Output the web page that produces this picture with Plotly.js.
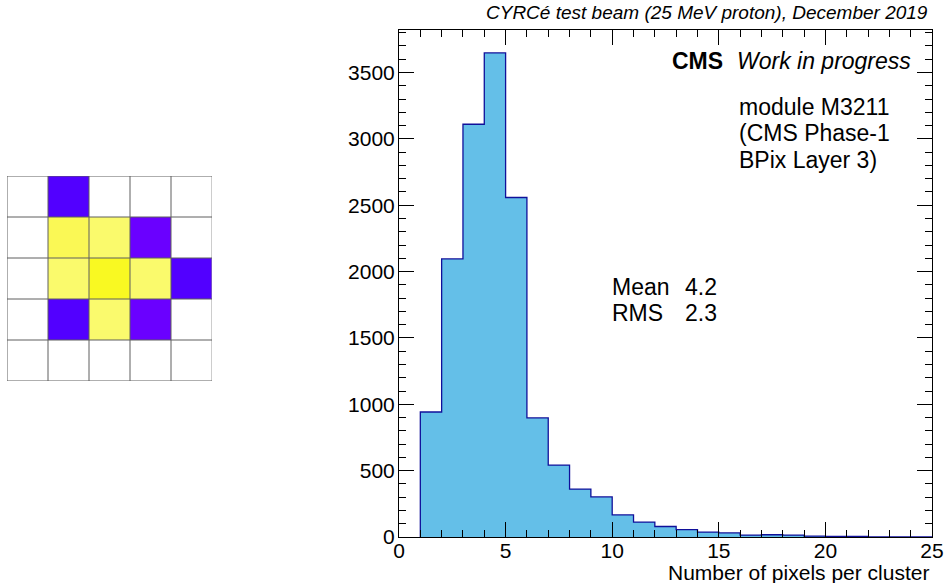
<!DOCTYPE html>
<html>
<head>
<meta charset="utf-8">
<script src="https://cdn.plot.ly/plotly-3.0.1.min.js"></script>
<style>html,body{margin:0;padding:0;background:#fff;}#chart{width:945px;height:583px;}</style>
</head>
<body>
<div id="chart"></div>
<script>
// ---- Histogram data: Number of pixels per cluster ----
const binEdges = [0,1,2,3,4,5,6,7,8,9,10,11,12,13,14,15,16,17,18,19,20,21,22,23,24,25];
const binCounts = [0,942,2096,3110,3647,2558,897,541,360,303,166,112,79,55,36,31,14,17,14,6,5,4,1,0,0];

// ---- Example cluster (5x5 pixel map), rows top to bottom ----
const pixelRows = [0,1,2,3,4];
const pixelCols = [0,1,2,3,4];
const pixelCharge = [
  [null, 1,    null, null, null],
  [null, 7,    5,    2,    null],
  [null, 5,    10,   5,    1   ],
  [null, 1,    4.5,  2,    null],
  [null, null, null, null, null]
];

// ---- Texts ----
const xTitle = 'Number of pixels per cluster';
const topText = 'CYRCé test beam (25 MeV proton), December 2019';
const cmsLabel = 'CMS';
const wipLabel = 'Work in progress';
const moduleText = ['module M3211', '(CMS Phase-1', 'BPix Layer 3)'];
const statNames = ['Mean', 'RMS'];
const statValues = ['4.2', '2.3'];

// ---- geometry helpers (pixels -> paper) ----
const W = 945, H = 583;
const px = x => x / W;
const py = y => (H - y) / H;

const centers = binCounts.map((_, i) => (binEdges[i] + binEdges[i + 1]) / 2);
const widths = binCounts.map((_, i) => binEdges[i + 1] - binEdges[i]);

// step contour
const stepX = [binEdges[1]], stepY = [0];
for (let i = 1; i < binCounts.length; i++) { stepX.push(binEdges[i]); stepY.push(binCounts[i]); }
stepX.push(binEdges[binEdges.length - 1]); stepY.push(0);

const font = 'Liberation Sans, Arial, Helvetica, sans-serif';

const traces = [
  {
    type: 'bar', x: centers, y: binCounts, width: widths,
    marker: { color: '#64BFE8', line: { width: 0 } },
    xaxis: 'x', yaxis: 'y', hoverinfo: 'skip'
  },
  {
    type: 'scatter', mode: 'lines', x: stepX, y: stepY,
    line: { shape: 'hv', color: '#10109A', width: 1.3 },
    xaxis: 'x', yaxis: 'y', hoverinfo: 'skip'
  },
  {
    type: 'heatmap', x: pixelCols, y: pixelRows, z: pixelCharge,
    zmin: 1, zmax: 10, showscale: false,
    colorscale: [
      [0, '#5200FF'], [0.13, '#6E00FF'], [0.131, '#FAFA74'],
      [0.5, '#FAFA6A'], [0.667, '#FAF855'], [1, '#F9F922']
    ],
    xaxis: 'x2', yaxis: 'y2', hoverinfo: 'skip'
  }
];

const shapes = [];
for (let i = 0; i <= pixelCols.length; i++) {
  shapes.push({ type: 'line', xref: 'x2', yref: 'y2', layer: 'above',
    x0: i - 0.5, x1: i - 0.5, y0: -0.5, y1: pixelRows.length - 0.5,
    line: { color: i === pixelCols.length ? '#9a9a9a' : '#5e5e5e', width: 1 } });
}
for (let j = 0; j <= pixelRows.length; j++) {
  shapes.push({ type: 'line', xref: 'x2', yref: 'y2', layer: 'above',
    x0: -0.5, x1: pixelCols.length - 0.5, y0: j - 0.5, y1: j - 0.5,
    line: { color: '#5e5e5e', width: 1 } });
}

function note(text, xPix, yPix, anchor, size, extra) {
  return Object.assign({ text: text, xref: 'paper', yref: 'paper', x: px(xPix), y: py(yPix),
    xanchor: anchor, yanchor: 'middle', showarrow: false, align: anchor,
    font: { family: font, size: size, color: '#000' } }, extra || {});
}

const annotations = [
  note('<i>' + topText + '</i>', 930, 12, 'right', 19),
  note('<i>' + wipLabel + '</i>', 913, 61, 'right', 23),
  note('<b>' + cmsLabel + '</b>', 725, 61, 'right', 23),
  note(xTitle, 931, 572, 'right', 21)
];
const moduleY = [107, 133, 160];
moduleText.forEach((t, i) => annotations.push(note(t, 737, moduleY[i], 'left', 23)));
const statY = [287, 313];
statNames.forEach((t, i) => annotations.push(note(t, 610, statY[i], 'left', 23)));
statValues.forEach((t, i) => annotations.push(note(t, 683, statY[i], 'left', 23)));

const layout = {
  width: W, height: H,
  margin: { l: 0, r: 0, t: 0, b: 0 },
  paper_bgcolor: '#fff', plot_bgcolor: 'rgba(0,0,0,0)',
  showlegend: false, barmode: 'overlay', bargap: 0,
  font: { family: font, size: 21, color: '#000' },
  xaxis: {
    domain: [px(399), px(932)], range: [0, 25], anchor: 'y',
    tickvals: [0, 5, 10, 15, 20, 25], ticks: 'inside', ticklen: 15, tickcolor: '#000', tickwidth: 1,
    minor: { dtick: 1, ticks: 'inside', ticklen: 7, tickcolor: '#000', tickwidth: 1 },
    showline: true, linecolor: '#000', linewidth: 1, mirror: 'ticks',
    showgrid: false, zeroline: false, tickfont: { family: font, size: 21 }, ticklabelstandoff: -5
  },
  yaxis: {
    domain: [py(537), py(30)], range: [0, 3820], anchor: 'x',
    tickvals: [0, 500, 1000, 1500, 2000, 2500, 3000, 3500], ticks: 'inside', ticklen: 15, tickcolor: '#000', tickwidth: 1,
    minor: { dtick: 100, ticks: 'inside', ticklen: 7, tickcolor: '#000', tickwidth: 1 },
    showline: true, linecolor: '#000', linewidth: 1, mirror: 'ticks',
    showgrid: false, zeroline: false, tickfont: { family: font, size: 21 }, ticklabelstandoff: -1
  },
  xaxis2: {
    domain: [px(7), px(212)], range: [-0.5, pixelCols.length - 0.5], anchor: 'y2',
    visible: false, showgrid: false, zeroline: false
  },
  yaxis2: {
    domain: [py(381), py(176)], range: [pixelRows.length - 0.5, -0.5], anchor: 'x2',
    visible: false, showgrid: false, zeroline: false
  },
  shapes: shapes,
  annotations: annotations
};

Plotly.newPlot('chart', traces, layout, { staticPlot: true, displayModeBar: false });
</script>
</body>
</html>
